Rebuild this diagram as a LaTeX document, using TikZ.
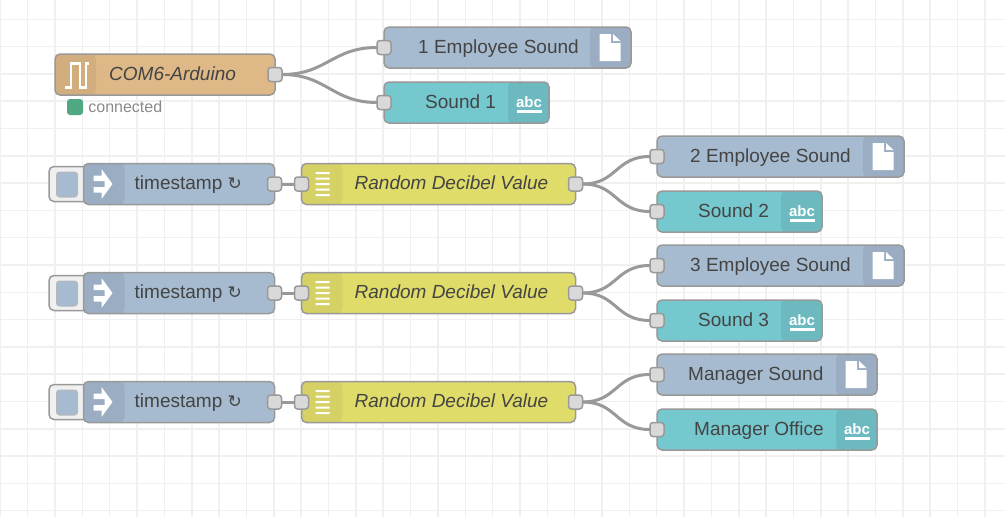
\documentclass[tikz,border=0pt]{standalone}
\usepackage{fontspec}
\setmainfont{Liberation Sans}
\newfontfamily\symfont{DejaVu Sans}
\usetikzlibrary{positioning,calc}

\definecolor{gridcol}{HTML}{F0F0F0}
\definecolor{edgecol}{HTML}{999999}
\definecolor{portcol}{HTML}{D9D9D9}
\definecolor{textcol}{HTML}{444444}
\definecolor{serialcol}{HTML}{DEB887}
\definecolor{serialdark}{HTML}{D2AE7F}
\definecolor{bluecol}{HTML}{A6BBCF}
\definecolor{bluedark}{HTML}{9AADC2}
\definecolor{tealcol}{HTML}{74C8CE}
\definecolor{tealdark}{HTML}{6CBAC0}
\definecolor{funccol}{HTML}{E0DC6A}
\definecolor{funcdark}{HTML}{D5D165}
\definecolor{statuscol}{HTML}{4FA882}

\begin{document}
\begin{tikzpicture}[x=1pt, y=-1pt]
    % Styles
    \tikzset{
        flownode/.style={rectangle, draw=edgecol, line width=1.5pt, rounded corners=5pt, minimum height=41pt, outer sep=0pt, inner sep=0pt},
        leftstrip/.style={path picture={\fill[#1] (path picture bounding box.north west) rectangle ([xshift=41pt]path picture bounding box.south west);}},
        rightstrip/.style={path picture={\fill[#1] (path picture bounding box.north east) rectangle ([xshift=-41pt]path picture bounding box.south east);}},
        serialnode/.style={flownode, fill=serialcol, minimum width=220pt, leftstrip=serialdark},
        injectnode/.style={flownode, fill=bluecol, minimum width=191pt, leftstrip=bluedark},
        funcnode/.style={flownode, fill=funccol, minimum width=274pt, leftstrip=funcdark},
        filenode/.style={flownode, fill=bluecol, rightstrip=bluedark},
        debugnode/.style={flownode, fill=tealcol, rightstrip=tealdark},
        button/.style={rectangle, draw=edgecol, fill=gridcol, line width=1.5pt, rounded corners=5pt, minimum width=40pt, minimum height=35pt, outer sep=0pt},
        buttonface/.style={rectangle, draw=edgecol!70, fill=bluecol, line width=1pt, rounded corners=3pt, minimum width=21pt, minimum height=25pt, outer sep=0pt},
        port/.style={rectangle, draw=edgecol, fill=portcol, line width=1.5pt, rounded corners=3pt, minimum size=14pt, inner sep=0pt, outer sep=0pt},
        nodetext/.style={text=textcol, font=\fontsize{19}{22}\selectfont, text height=13pt, text depth=2pt, inner sep=0pt},
        nametext/.style={nodetext, font=\fontsize{19}{22}\selectfont\itshape},
        wire/.style={draw=edgecol, line width=3pt},
        fileicon/.pic={
            \fill[white] (-10.5,-13.5) -- (1,-13.5) -- (1,-4.5) -- (10.5,-4.5) -- (10.5,13.5) -- (-10.5,13.5) -- cycle;
            \fill[white] (3,-13.5) -- (10.5,-6.5) -- (3,-6.5) -- cycle;
        },
        abcicon/.pic={
            \node[text=white, inner sep=0pt, font=\fontsize{15}{18}\selectfont\bfseries] at (0,-0.5) {abc};
            \fill[white] (-12.5,7.5) rectangle (12.5,10);
        },
        arrowicon/.pic={
            \fill[white] (-9,-8.5) -- (-1,-8.5) -- (-1,-15) -- (10,0) -- (-1,15) -- (-1,8.5) -- (-9,8.5) -- (-9,3) -- (2,3) -- (2,-3) -- (-9,-3) -- cycle;
        },
        listicon/.pic={
            \fill[white] (-7,-12) rectangle (7,-10) (-7,-6.5) rectangle (7,-4.5) (-7,-1) rectangle (7,1) (-7,4.5) rectangle (7,6.5) (-7,10) rectangle (7,12);
        },
    }

    % Background
    \fill[white] (0,0) rectangle (1005,517);
    \useasboundingbox (0,0) rectangle (1005,517);
    \foreach \gx in {0,...,36} \draw[gridcol, line width=1.5pt] ({0.3+27.35*\gx},0) -- ({0.3+27.35*\gx},517);
    \foreach \gy in {0,...,18} \draw[gridcol, line width=1.5pt] (0,{19.3+27.3*\gy}) -- (1005,{19.3+27.3*\gy});

    % Nodes
    \node[serialnode] (arduino) at (165,74.5) {};
    \node[filenode, minimum width=247pt] (emp1) at (507.5,47.5) {};
    \node[debugnode, minimum width=165pt, below right=14pt and 0pt of emp1.south west] (snd1) {};

    \node[button] (btn1) at (69,184) {};
    \node[injectnode] (ts1) at (179,184) {};
    \node[funcnode, right=27pt of ts1] (fn1) {};
    \node[filenode, minimum width=247pt] (emp2) at (780.5,156.5) {};
    \node[debugnode, minimum width=165pt, below right=14pt and 0pt of emp2.south west] (snd2) {};

    \node[button] (btn2) at (69,293) {};
    \node[injectnode] (ts2) at (179,293) {};
    \node[funcnode, right=27pt of ts2] (fn2) {};
    \node[filenode, minimum width=247pt] (emp3) at (780.5,265.5) {};
    \node[debugnode, minimum width=165pt, below right=14pt and 0pt of emp3.south west] (snd3) {};

    \node[button] (btn3) at (69,402) {};
    \node[injectnode] (ts3) at (179,402) {};
    \node[funcnode, right=27pt of ts3] (fn3) {};
    \node[filenode, minimum width=220pt] (mgr) at (767,374.5) {};
    \node[debugnode, minimum width=220pt, below=14pt of mgr] (off) {};

    % Button faces
    \node[buttonface] (face1) at (67,184.5) {};
    \node[buttonface] (face2) at (67,293.5) {};
    \node[buttonface] (face3) at (67,402.5) {};

    % Labels
    \node[nametext, right=54pt of arduino.west] (arduinotext) {COM6-Arduino};
    \node[nodetext, right=34pt of emp1.west] (emp1text) {1 Employee Sound};
    \node[nodetext, right=41pt of snd1.west] (snd1text) {Sound 1};
    \node[nodetext, right=51pt of ts1.west] (ts1text) {timestamp {\symfont\fontsize{17}{20}\selectfont ↻}};
    \node[nametext, right=53pt of fn1.west] (fn1text) {Random Decibel Value};
    \node[nodetext, right=33pt of emp2.west] (emp2text) {2 Employee Sound};
    \node[nodetext, right=41pt of snd2.west] (snd2text) {Sound 2};
    \node[nodetext, right=51pt of ts2.west] (ts2text) {timestamp {\symfont\fontsize{17}{20}\selectfont ↻}};
    \node[nametext, right=53pt of fn2.west] (fn2text) {Random Decibel Value};
    \node[nodetext, right=33pt of emp3.west] (emp3text) {3 Employee Sound};
    \node[nodetext, right=41pt of snd3.west] (snd3text) {Sound 3};
    \node[nodetext, right=51pt of ts3.west] (ts3text) {timestamp {\symfont\fontsize{17}{20}\selectfont ↻}};
    \node[nametext, right=53pt of fn3.west] (fn3text) {Random Decibel Value};
    \node[nodetext, right=31pt of mgr.west] (mgrtext) {Manager Sound};
    \node[nodetext, right=37pt of off.west] (offtext) {Manager Office};

    % Status
    \node[rectangle, fill=statuscol, rounded corners=3pt, minimum size=16pt, inner sep=0pt] (status) at (75,107) {};
    \node[text=edgecol!90!black, inner sep=0pt, font=\fontsize{16}{18}\selectfont, right=5pt of status] (statustext) {connected};

    % Icons
    \draw[white, line width=2.6pt] ([shift={(10,13)}]arduino.west) -- ++(6,0) -- ++(0,-24) -- ++(9,0) -- ++(0,24) -- ++(6,0) -- ++(0,-24) -- ++(2.5,0);
    \path ([xshift=-21pt]emp1.east) pic {fileicon};
    \path ([xshift=-21pt]emp2.east) pic {fileicon};
    \path ([xshift=-21pt]emp3.east) pic {fileicon};
    \path ([xshift=-21pt]mgr.east) pic {fileicon};
    \path ([xshift=-20pt]snd1.east) pic {abcicon};
    \path ([xshift=-20pt]snd2.east) pic {abcicon};
    \path ([xshift=-20pt]snd3.east) pic {abcicon};
    \path ([xshift=-20pt]off.east) pic {abcicon};
    \path ([xshift=19pt]ts1.west) pic {arrowicon};
    \path ([xshift=19pt]ts2.west) pic {arrowicon};
    \path ([xshift=19pt]ts3.west) pic {arrowicon};
    \path ([xshift=21pt]fn1.west) pic {listicon};
    \path ([xshift=21pt]fn2.west) pic {listicon};
    \path ([xshift=21pt]fn3.west) pic {listicon};

    % Ports
    \node[port] (arduinoOut) at (arduino.east) {};
    \node[port] (emp1In) at (emp1.west) {};
    \node[port] (snd1In) at (snd1.west) {};
    \node[port] (ts1Out) at (ts1.east) {};
    \node[port] (fn1In) at (fn1.west) {};
    \node[port] (fn1Out) at (fn1.east) {};
    \node[port] (emp2In) at (emp2.west) {};
    \node[port] (snd2In) at (snd2.west) {};
    \node[port] (ts2Out) at (ts2.east) {};
    \node[port] (fn2In) at (fn2.west) {};
    \node[port] (fn2Out) at (fn2.east) {};
    \node[port] (emp3In) at (emp3.west) {};
    \node[port] (snd3In) at (snd3.west) {};
    \node[port] (ts3Out) at (ts3.east) {};
    \node[port] (fn3In) at (fn3.west) {};
    \node[port] (fn3Out) at (fn3.east) {};
    \node[port] (mgrIn) at (mgr.west) {};
    \node[port] (offIn) at (off.west) {};

    % Wires
    \path[wire] (arduinoOut.east) .. controls +(45,0) and +(-45,0) .. (emp1In.west);
    \path[wire] (arduinoOut.east) .. controls +(45,0) and +(-45,0) .. (snd1In.west);
    \path[wire] (ts1Out.east) -- (fn1In.west);
    \path[wire] (fn1Out.east) .. controls +(35,0) and +(-35,0) .. (emp2In.west);
    \path[wire] (fn1Out.east) .. controls +(35,0) and +(-35,0) .. (snd2In.west);
    \path[wire] (ts2Out.east) -- (fn2In.west);
    \path[wire] (fn2Out.east) .. controls +(35,0) and +(-35,0) .. (emp3In.west);
    \path[wire] (fn2Out.east) .. controls +(35,0) and +(-35,0) .. (snd3In.west);
    \path[wire] (ts3Out.east) -- (fn3In.west);
    \path[wire] (fn3Out.east) .. controls +(35,0) and +(-35,0) .. (mgrIn.west);
    \path[wire] (fn3Out.east) .. controls +(35,0) and +(-35,0) .. (offIn.west);
\end{tikzpicture}
\end{document}
